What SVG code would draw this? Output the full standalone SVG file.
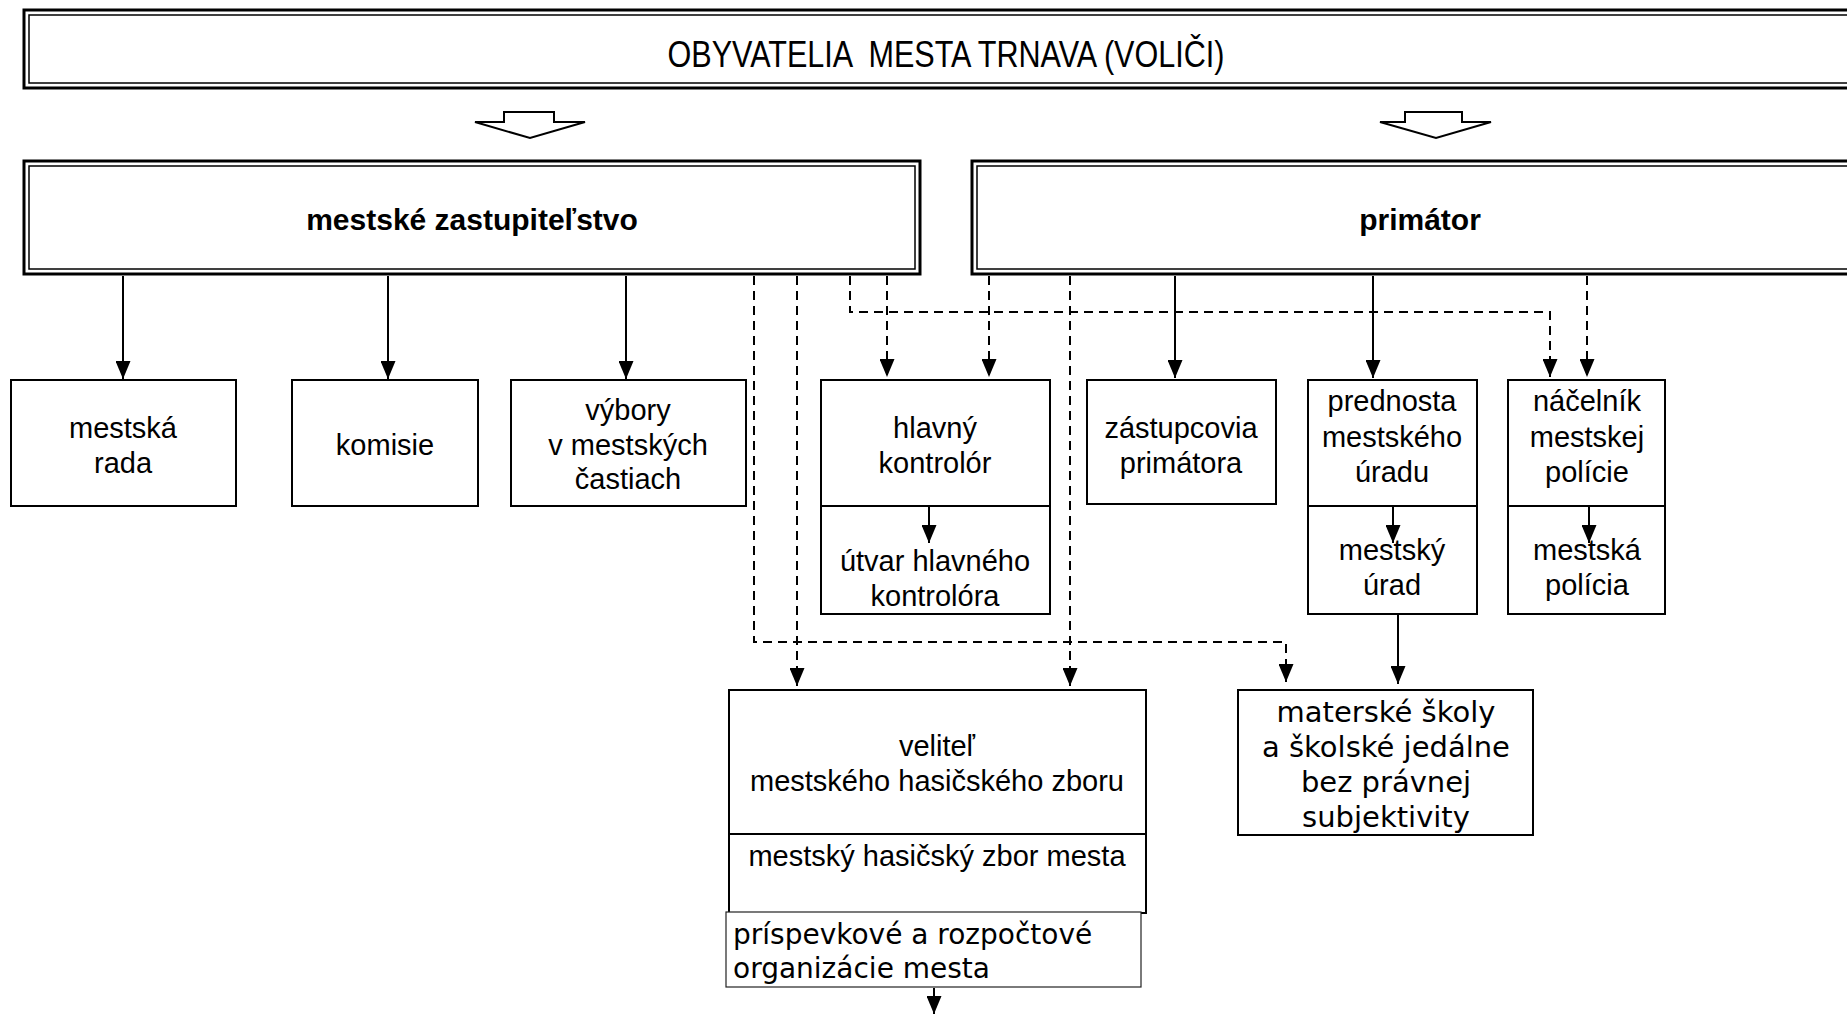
<svg xmlns="http://www.w3.org/2000/svg" width="1847" height="1022" viewBox="0 0 1847 1022">
<style>
.o{fill:#fff;stroke:#000;stroke-width:3}
.i{fill:none;stroke:#000;stroke-width:1.5}
.b{fill:#fff;stroke:#000;stroke-width:2}
.bt{fill:#fff;stroke:#222;stroke-width:1.2}
.t{font-family:"Liberation Sans",Arial,sans-serif;font-size:29px;text-anchor:middle;fill:#000}
.tb{font-family:"Liberation Sans",Arial,sans-serif;font-size:30px;font-weight:bold;text-anchor:middle;fill:#000}
.tv{font-family:"DejaVu Sans",Verdana,sans-serif;font-size:29px;text-anchor:middle;fill:#000}
.s{fill:none;stroke:#000;stroke-width:2;marker-end:url(#ah)}
.da{fill:none;stroke:#000;stroke-width:2;stroke-dasharray:9 6;marker-end:url(#ah)}
.ha{fill:#fff;stroke:#000;stroke-width:2}
.dv{stroke:#000;stroke-width:2}
</style>
<defs>
<marker id="ah" markerUnits="userSpaceOnUse" markerWidth="18" markerHeight="15" refX="18" refY="7.5" orient="auto" viewBox="0 0 18 15">
<path d="M0,0 L18,7.5 L0,15 Z" fill="#000"/>
</marker>
</defs>
<rect width="1847" height="1022" fill="#fff"/>

<g id="obyvatelia">
<rect class="o" x="24" y="10" width="1840" height="78"/>
<rect class="i" x="29" y="15" width="1830" height="68"/>
<text class="t" x="946" y="67" style="font-size:37px" textLength="557" lengthAdjust="spacingAndGlyphs" xml:space="preserve">OBYVATELIA  MESTA TRNAVA (VOLIČI)</text>
</g>

<g id="hollow-arrows">
<path class="ha" d="M504,112 L554,112 L554,122 L585,122 L530,138 L475,122 L504,122 Z"/>
<path class="ha" d="M1405,112 L1462,112 L1462,122 L1491,122 L1436,138 L1380,122 L1405,122 Z"/>
</g>

<g id="zastupitelstvo">
<rect class="o" x="24" y="161" width="896" height="113"/>
<rect class="i" x="29" y="166" width="886" height="103"/>
<text class="tb" x="472" y="230">mestské zastupiteľstvo</text>
</g>

<g id="primator">
<rect class="o" x="972" y="161" width="890" height="113"/>
<rect class="i" x="977" y="166" width="880" height="103"/>
<text class="tb" x="1420" y="230">primátor</text>
</g>

<g id="mestska-rada">
<rect class="b" x="11" y="380" width="225" height="126"/>
<text class="t" x="123" y="438">mestská</text>
<text class="t" x="123" y="473">rada</text>
</g>

<g id="komisie">
<rect class="b" x="292" y="380" width="186" height="126"/>
<text class="t" x="385" y="455">komisie</text>
</g>

<g id="vybory">
<rect class="b" x="511" y="380" width="235" height="126"/>
<text class="t" x="628" y="420">výbory</text>
<text class="t" x="628" y="455">v mestských</text>
<text class="t" x="628" y="489">častiach</text>
</g>

<g id="hlavny-kontrolor">
<rect class="b" x="821" y="380" width="229" height="234"/>
<line class="dv" x1="821" y1="506" x2="1050" y2="506"/>
<text class="t" x="935" y="438">hlavný</text>
<text class="t" x="935" y="473">kontrolór</text>
<text class="t" x="935" y="571">útvar hlavného</text>
<text class="t" x="935" y="606">kontrolóra</text>
</g>

<g id="zastupcovia">
<rect class="b" x="1087" y="380" width="189" height="124"/>
<text class="t" x="1181" y="438">zástupcovia</text>
<text class="t" x="1181" y="473">primátora</text>
</g>

<g id="prednosta">
<rect class="b" x="1308" y="380" width="169" height="234"/>
<line class="dv" x1="1308" y1="506" x2="1477" y2="506"/>
<text class="t" x="1392" y="411">prednosta</text>
<text class="t" x="1392" y="447">mestského</text>
<text class="t" x="1392" y="482">úradu</text>
<text class="t" x="1392" y="560">mestský</text>
<text class="t" x="1392" y="595">úrad</text>
</g>

<g id="nacelnik">
<rect class="b" x="1508" y="380" width="157" height="234"/>
<line class="dv" x1="1508" y1="506" x2="1665" y2="506"/>
<text class="t" x="1587" y="411">náčelník</text>
<text class="t" x="1587" y="447">mestskej</text>
<text class="t" x="1587" y="482">polície</text>
<text class="t" x="1587" y="560">mestská</text>
<text class="t" x="1587" y="595">polícia</text>
</g>

<g id="velitel">
<rect class="b" x="729" y="690" width="417" height="223"/>
<line class="dv" x1="729" y1="834" x2="1146" y2="834"/>
<text class="t" x="937" y="756">veliteľ</text>
<text class="t" x="937" y="791">mestského hasičského zboru</text>
<text class="t" x="937" y="866">mestský hasičský zbor mesta</text>
</g>

<g id="prispevkove">
<rect class="bt" x="726" y="912" width="415" height="75"/>
<text class="tv" x="733" y="944" style="text-anchor:start;font-size:28px">príspevkové a rozpočtové</text>
<text class="tv" x="733" y="978" style="text-anchor:start;font-size:28px">organizácie mesta</text>
</g>

<g id="materske">
<rect class="b" x="1238" y="690" width="295" height="145"/>
<text class="tv" x="1386" y="722">materské školy</text>
<text class="tv" x="1386" y="757">a školské jedálne</text>
<text class="tv" x="1386" y="792">bez právnej</text>
<text class="tv" x="1386" y="827">subjektivity</text>
</g>

<g id="connectors">
<line class="s" x1="123" y1="276" x2="123" y2="379"/>
<line class="s" x1="388" y1="276" x2="388" y2="379"/>
<line class="s" x1="626" y1="276" x2="626" y2="379"/>
<polyline class="da" points="754,276 754,642 1286,642 1286,682"/>
<line class="da" x1="797" y1="276" x2="797" y2="686"/>
<polyline class="da" points="850,276 850,312 1550,312 1550,377"/>
<line class="da" x1="887" y1="276" x2="887" y2="377"/>
<line class="da" x1="989" y1="276" x2="989" y2="377"/>
<line class="da" x1="1070" y1="276" x2="1070" y2="686"/>
<line class="s" x1="1175" y1="276" x2="1175" y2="378"/>
<line class="s" x1="1373" y1="276" x2="1373" y2="378"/>
<line class="da" x1="1587" y1="276" x2="1587" y2="377"/>
<line class="s" x1="929" y1="507" x2="929" y2="543"/>
<line class="s" x1="1393" y1="507" x2="1393" y2="543"/>
<line class="s" x1="1589" y1="507" x2="1589" y2="543"/>
<line class="s" x1="1398" y1="615" x2="1398" y2="684"/>
<line class="s" x1="934" y1="988" x2="934" y2="1014"/>
</g>
</svg>
